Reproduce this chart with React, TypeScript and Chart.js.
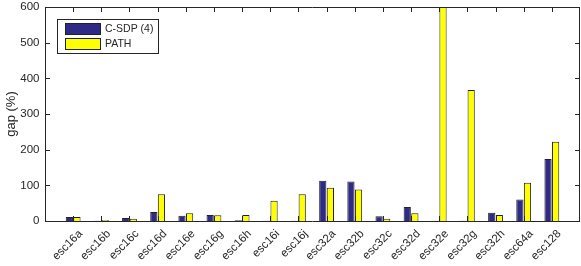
import React, { useEffect, useRef } from "react";
import { Chart, registerables } from "chart.js";

Chart.register(...registerables);

const categories = [
  "esc16a", "esc16b", "esc16c", "esc16d", "esc16e", "esc16g", "esc16h", "esc16i", "esc16j",
  "esc32a", "esc32b", "esc32c", "esc32d", "esc32e", "esc32g", "esc32h", "esc64a", "esc128",
];
const csdpValues = [11, 0.5, 8.5, 25, 15, 17, 2, 0.5, 0.5, 113, 111, 13, 39, 0.5, 0.5, 23, 60, 174];
const pathValues = [11, 3, 6, 75, 22, 16, 17, 57, 75, 93, 88, 6.5, 21.5, 650, 367, 17, 107, 222];
const yTicks = [0, 100, 200, 300, 400, 500, 600];

const AXIS_COLOR = "#262626";
const FONT = "'Liberation Sans', Arial, sans-serif";
const BLUE = "#2f2a86";
const YELLOW = "#ffff00";

const framePlugin = {
  id: "matlabFrame",
  afterDraw(chart: any) {
    const { ctx, chartArea } = chart;
    const { left, right, top, bottom } = chartArea;
    const xs = chart.scales.x;
    const ys = chart.scales.y;
    ctx.save();
    ctx.strokeStyle = AXIS_COLOR;
    ctx.lineWidth = 1;
    ctx.beginPath();
    ctx.rect(Math.round(left) + 0.5, Math.round(top) + 0.5, Math.round(right - left) - 1, Math.round(bottom - top));
    ctx.stroke();
    const tl = 5;
    ctx.beginPath();
    for (let i = 1; i <= categories.length; i++) {
      const px = Math.round(xs.getPixelForTick(i)) + 0.5;
      ctx.moveTo(px, bottom);
      ctx.lineTo(px, bottom - tl);
      ctx.moveTo(px, top);
      ctx.lineTo(px, top + tl);
    }
    for (const v of yTicks) {
      const py = Math.round(ys.getPixelForValue(v)) + 0.5;
      ctx.moveTo(left, py);
      ctx.lineTo(left + tl, py);
      ctx.moveTo(right, py);
      ctx.lineTo(right - tl, py);
    }
    ctx.stroke();

    // rotated category labels
    ctx.font = `11.5px ${FONT}`;
    ctx.fillStyle = AXIS_COLOR;
    ctx.textAlign = "right";
    ctx.textBaseline = "middle";
    categories.forEach((c, i) => {
      const px = xs.getPixelForTick(i + 1);
      ctx.save();
      ctx.translate(px + 7.5, bottom + 11);
      ctx.rotate(-Math.PI / 4);
      ctx.fillText(c, 0, 0);
      ctx.restore();
    });

    // legend
    const lx = 57.5, ly = 19.5, lw = 101, lh = 34;
    ctx.fillStyle = "#ffffff";
    ctx.fillRect(lx, ly, lw, lh);
    ctx.strokeStyle = AXIS_COLOR;
    ctx.strokeRect(lx, ly, lw, lh);
    const items = chart.data.datasets;
    ctx.font = `10.5px ${FONT}`;
    ctx.textAlign = "left";
    ctx.textBaseline = "middle";
    items.forEach((ds: any, i: number) => {
      const sy = 23.5 + i * 15;
      ctx.fillStyle = ds.backgroundColor;
      ctx.fillRect(65.5, sy, 35, 11);
      ctx.strokeStyle = "#222222";
      ctx.strokeRect(65.5, sy, 35, 11);
      ctx.fillStyle = AXIS_COLOR;
      ctx.fillText(ds.label, 105, sy + 6);
    });
    ctx.restore();
  },
};

export default function App() {
  const ref = useRef<HTMLCanvasElement | null>(null);
  useEffect(() => {
    if (!ref.current) return;
    const labels = ["", ...categories, ""];
    const pad = (a: number[]) => [null, ...a, null];
    const chart = new Chart(ref.current, {
      type: "bar",
      data: {
        labels,
        datasets: [
          {
            label: "C-SDP (4)",
            data: pad(csdpValues) as any,
            backgroundColor: BLUE,
            borderColor: "#222222",
            borderWidth: 1,
            categoryPercentage: 0.54,
            barPercentage: 0.95,
          },
          {
            label: "PATH",
            data: pad(pathValues) as any,
            backgroundColor: YELLOW,
            borderColor: "#222222",
            borderWidth: 1,
            categoryPercentage: 0.54,
            barPercentage: 0.95,
          },
        ],
      },
      options: {
        responsive: false,
        animation: false,
        layout: { padding: { top: 7, right: 1, left: 0, bottom: 0 } },
        plugins: { legend: { display: false }, tooltip: { enabled: false } },
        scales: {
          x: {
            type: "category",
            offset: false,
            grid: { display: false, drawTicks: false },
            border: { display: false },
            ticks: { display: false, autoSkip: false },
            afterFit: (s: any) => {
              s.height = 45;
              s.paddingLeft = 0;
              s.paddingRight = 0;
            },
          },
          y: {
            min: 0,
            max: 600,
            grid: { display: false, drawTicks: false },
            border: { display: false },
            ticks: {
              stepSize: 100,
              color: AXIS_COLOR,
              font: { family: FONT, size: 11.5 },
              padding: 5.5,
            },
            title: {
              display: true,
              text: "gap (%)",
              color: AXIS_COLOR,
              font: { family: FONT, size: 13 },
              padding: { top: 4, bottom: 0 },
            },
            afterFit: (s: any) => {
              s.width = 45;
              s.paddingTop = 0;
              s.paddingBottom = 0;
            },
          },
        },
      },
      plugins: [framePlugin],
    });
    return () => chart.destroy();
  }, []);
  return (
    <div style={{ position: "absolute", left: 0, top: 0, width: 581, height: 266, background: "#fff" }}>
      <canvas ref={ref} width={581} height={266} style={{ display: "block" }} />
    </div>
  );
}
